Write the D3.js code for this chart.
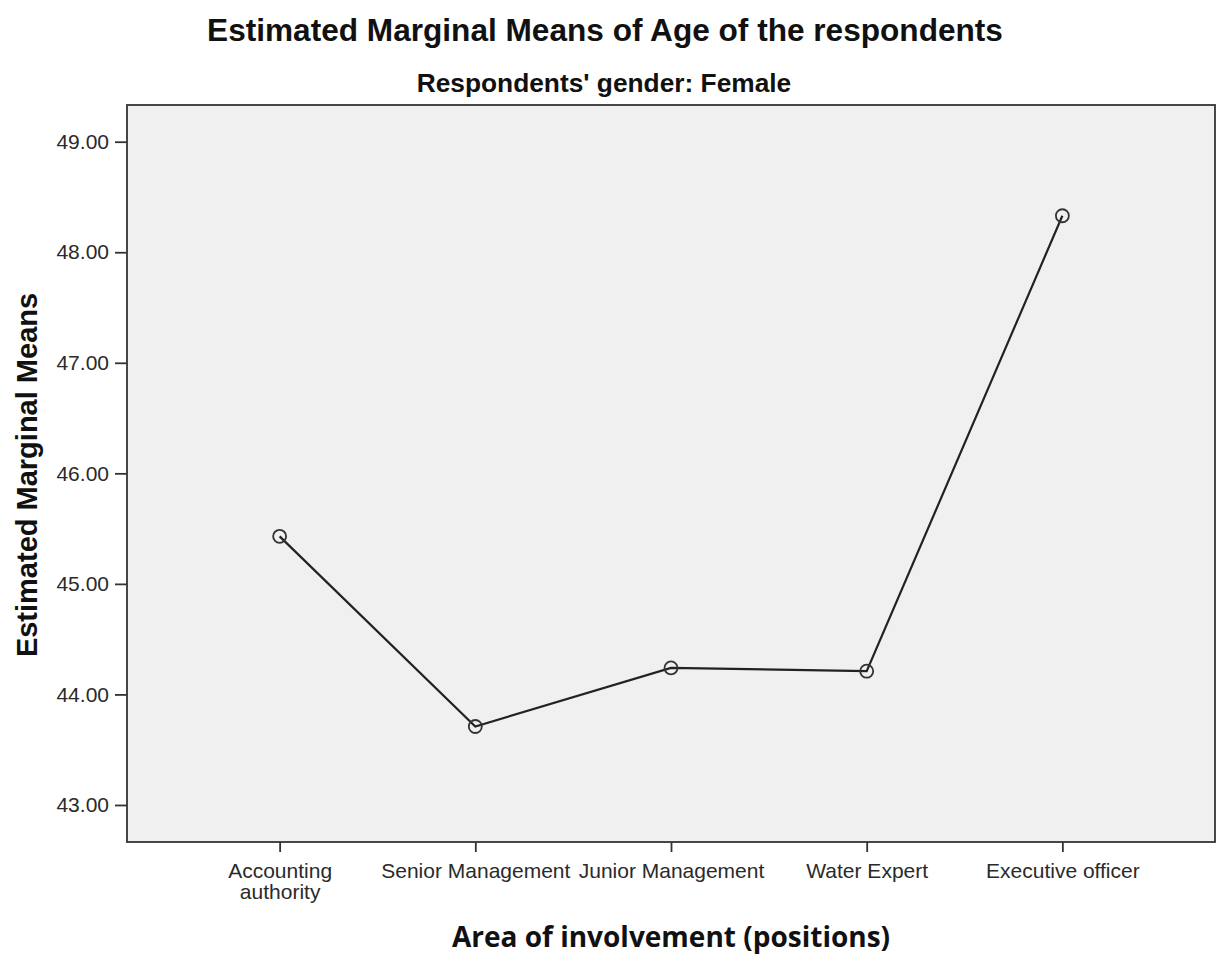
<!DOCTYPE html>
<html>
<head>
<meta charset="utf-8">
<script src="https://d3js.org/d3.v7.min.js"></script>
<style>
  body { margin: 0; background: #fff; }
  svg { display: block; }
</style>
</head>
<body>
<script>
// data
var positions = ["Accounting authority", "Senior Management", "Junior Management", "Water Expert", "Executive officer"];
var means = [45.43, 43.71, 44.24, 44.21, 48.33];
var yTicks = [43, 44, 45, 46, 47, 48, 49];

var w = 1217, h = 956;
var margin = {left: 127, right: 2, top: 105, bottom: 114};

var svg = d3.select("body").append("svg").attr("width", w).attr("height", h);

var x = d3.scalePoint().domain(positions).range([margin.left, w - margin.right]).padding(0.78);
var y = d3.scaleLinear().domain([42.665, 49.332]).range([h - margin.bottom, margin.top]);

// plot background
svg.append("rect")
  .attr("x", margin.left).attr("y", margin.top)
  .attr("width", w - margin.right - margin.left)
  .attr("height", h - margin.bottom - margin.top)
  .attr("fill", "#f0f0f0")
  .attr("stroke", "#333").attr("stroke-width", 1.8);

var yAxis = d3.axisLeft(y).tickValues(yTicks).tickFormat(d3.format(".2f")).tickSize(12).tickPadding(6);
var xAxis = d3.axisBottom(x).tickSize(10).tickPadding(11);

var gy = svg.append("g").attr("transform", "translate(" + margin.left + ",0)").call(yAxis);
var gx = svg.append("g").attr("transform", "translate(0," + (h - margin.bottom) + ")").call(xAxis);

[gy, gx].forEach(function(g){
  g.select(".domain").remove();
  g.selectAll(".tick line").attr("stroke", "#333").attr("stroke-width", 1.8);
  g.selectAll(".tick text")
    .attr("fill", "#2a2a2a")
    .style("font-family", "'Liberation Sans', Arial, sans-serif")
    .style("font-size", "21px");
});

// wrap the long first category onto two lines
gx.selectAll(".tick text").each(function(d){
  var t = d3.select(this);
  if (d === "Accounting authority") {
    t.text(null);
    t.append("tspan").attr("x", 0).attr("dy", "0.71em").text("Accounting");
    t.append("tspan").attr("x", 0).attr("dy", "1.0em").text("authority");
  }
});

var line = d3.line()
  .x(function(d, i){ return x(positions[i]); })
  .y(function(d){ return y(d); });

svg.append("path")
  .datum(means)
  .attr("d", line)
  .attr("fill", "none")
  .attr("stroke", "#222")
  .attr("stroke-width", 2.2);

svg.selectAll("circle.pt")
  .data(means)
  .enter().append("circle")
  .attr("class", "pt")
  .attr("cx", function(d, i){ return x(positions[i]); })
  .attr("cy", function(d){ return y(d); })
  .attr("r", 6.5)
  .attr("fill", "none")
  .attr("stroke", "#333")
  .attr("stroke-width", 1.8);

// titles
svg.append("text")
  .attr("x", 605).attr("y", 41)
  .attr("text-anchor", "middle")
  .style("font-family", "'Liberation Sans', Arial, sans-serif")
  .style("font-weight", "bold").style("font-size", "31.6px")
  .attr("fill", "#111")
  .text("Estimated Marginal Means of Age of the respondents");

svg.append("text")
  .attr("x", 604).attr("y", 92)
  .attr("text-anchor", "middle")
  .style("font-family", "'Liberation Sans', Arial, sans-serif")
  .style("font-weight", "bold").style("font-size", "26.3px")
  .attr("fill", "#111")
  .text("Respondents' gender: Female");

svg.append("text")
  .attr("transform", "translate(37,475) rotate(-90)")
  .attr("text-anchor", "middle")
  .style("font-family", "'Liberation Sans', Arial, sans-serif")
  .style("font-weight", "bold").style("font-size", "29px")
  .attr("fill", "#111")
  .text("Estimated Marginal Means");

svg.append("text")
  .attr("x", 671).attr("y", 947)
  .attr("text-anchor", "middle")
  .style("font-family", "'Open Sans', 'DejaVu Sans', sans-serif")
  .style("font-weight", "bold").style("font-size", "28px")
  .attr("fill", "#111")
  .text("Area of involvement (positions)");
</script>
</body>
</html>
